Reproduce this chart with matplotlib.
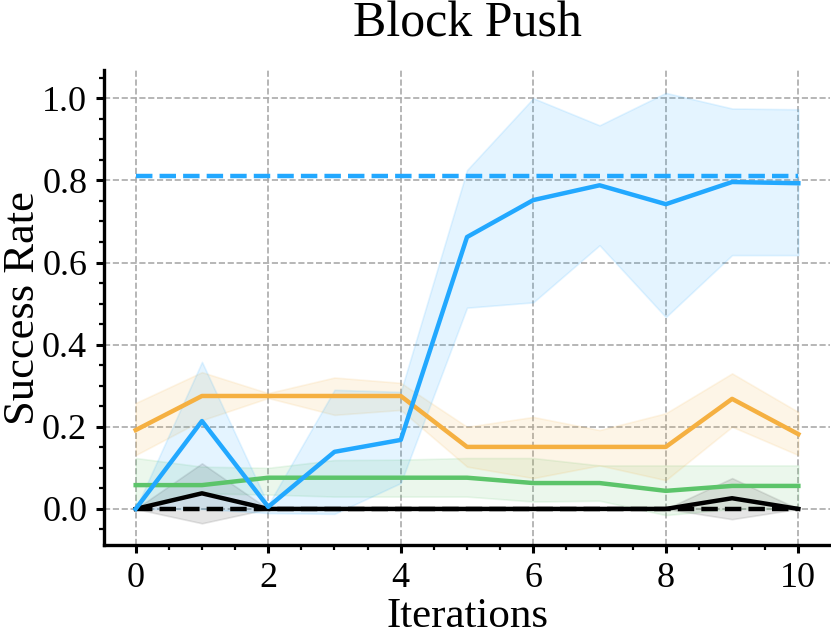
import numpy as np
import matplotlib
matplotlib.use("Agg")
import matplotlib.pyplot as plt
from matplotlib.ticker import MultipleLocator

plt.rcParams.update({
    "font.family": ["Liberation Serif", "DejaVu Serif"],
    "mathtext.fontset": "stix",
})

iters = np.arange(11)

blue_mean = [0.0, 0.214, 0.005, 0.139, 0.168, 0.662, 0.752, 0.788, 0.742, 0.796, 0.793]
blue_hi = [0.0, 0.358, 0.01, 0.29, 0.285, 0.825, 1.0, 0.934, 1.013, 0.975, 0.973]
blue_lo = [0.0, 0.0, -0.01, -0.012, 0.063, 0.49, 0.503, 0.642, 0.467, 0.618, 0.618]
blue_ref = 0.81

orange_mean = [0.192, 0.275, 0.275, 0.275, 0.275, 0.151, 0.151, 0.151, 0.151, 0.268, 0.182]
orange_hi = [0.258, 0.333, 0.282, 0.32, 0.307, 0.2, 0.224, 0.192, 0.233, 0.33, 0.236]
orange_lo = [0.131, 0.216, 0.27, 0.229, 0.241, 0.103, 0.075, 0.106, 0.07, 0.2, 0.131]

green_mean = [0.058, 0.058, 0.076, 0.076, 0.076, 0.076, 0.063, 0.063, 0.044, 0.056, 0.056]
green_hi = [0.124, 0.103, 0.1, 0.119, 0.12, 0.124, 0.124, 0.106, 0.106, 0.106, 0.106]
green_lo = [0.0, 0.038, 0.035, 0.03, 0.03, 0.03, 0.018, 0.02, -0.015, 0.0, 0.0]

black_mean = [0.0, 0.038, 0.0, 0.0, 0.0, 0.0, 0.0, 0.0, 0.0, 0.026, 0.0]
black_hi = [0.0, 0.111, 0.0, 0.0, 0.0, 0.0, 0.0, 0.0, 0.0, 0.075, 0.0]
black_lo = [0.0, -0.035, 0.0, 0.0, 0.0, 0.0, 0.0, 0.0, 0.0, -0.025, 0.0]
black_ref = 0.0

C_BLUE = "#22a8ff"
C_ORANGE = "#f5b041"
C_GREEN = "#5cc46a"
C_BLACK = "#000000"

fig = plt.figure(figsize=(8.31, 6.39), dpi=100)
ax = fig.add_axes([0.125, 0.147, 0.874, 0.743])

for lo, hi, c, a in ((green_lo, green_hi, C_GREEN, 0.12),
                     (orange_lo, orange_hi, C_ORANGE, 0.12),
                     (black_lo, black_hi, "#555555", 0.15),
                     (blue_lo, blue_hi, C_BLUE, 0.12)):
    ax.fill_between(iters, lo, hi, color=c, alpha=a, linewidth=1.2)

ax.plot(iters, green_mean, color=C_GREEN, lw=3.2, zorder=3)
ax.plot(iters, orange_mean, color=C_ORANGE, lw=3.2, zorder=3)
ax.plot(iters, black_mean, color=C_BLACK, lw=3.2, zorder=3)
ax.plot([iters[0], iters[-1]], [black_ref, black_ref], color=C_BLACK, lw=3.2,
        ls="--", zorder=4)
ax.plot(iters, blue_mean, color=C_BLUE, lw=3.2, zorder=5)
ax.plot([iters[0], iters[-1]], [blue_ref, blue_ref], color=C_BLUE, lw=3.2,
        ls="--", zorder=5)

ax.set_xlim(-0.48, 10.48)
ax.set_ylim(-0.088, 1.068)
ax.xaxis.set_major_locator(MultipleLocator(2))
ax.xaxis.set_minor_locator(MultipleLocator(0.5))
ax.yaxis.set_major_locator(MultipleLocator(0.2))
ax.yaxis.set_minor_locator(MultipleLocator(0.05))
ax.set_yticklabels([f"{v:.1f}" for v in ax.get_yticks()])

ax.grid(True, which="major", color="#aaaaaa", ls="--", lw=1.2)
ax.set_axisbelow(True)
for s in ("top", "right"):
    ax.spines[s].set_visible(False)
for s in ("left", "bottom"):
    ax.spines[s].set_linewidth(2.4)
ax.tick_params(which="major", direction="out", length=6, width=2.2,
               labelsize=26, pad=6)
ax.tick_params(which="minor", direction="out", length=3.5, width=1.6)

ax.set_xlabel("Iterations", fontsize=31, labelpad=2)
ax.set_ylabel("Success Rate", fontsize=32)
ax.yaxis.set_label_coords(-0.0844, 0.5)
ax.set_title("Block Push", fontsize=36, pad=24)

fig.savefig("out.png", dpi=100, facecolor="white")
